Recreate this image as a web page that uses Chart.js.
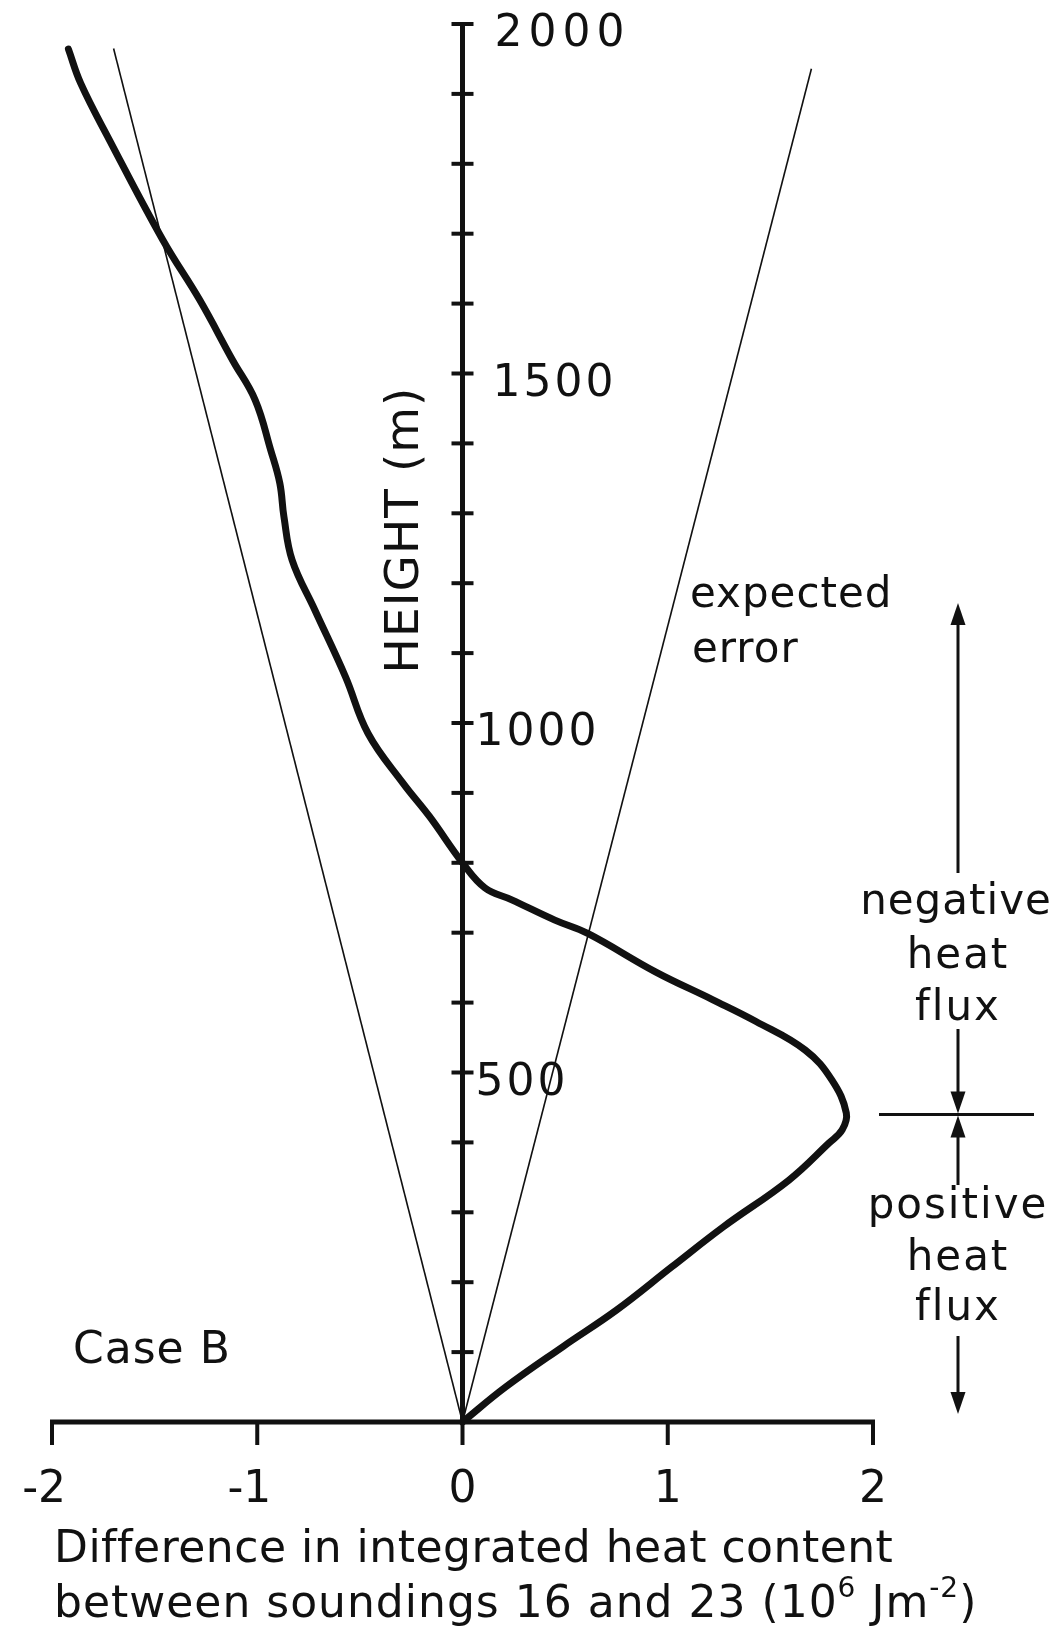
<!DOCTYPE html>
<html>
<head>
<meta charset="utf-8">
<script src="https://cdn.jsdelivr.net/npm/chart.js@4.4.1/dist/chart.umd.min.js"></script>
<style>
  html, body { margin: 0; padding: 0; background: #fff; }
  #wrap { position: relative; width: 1055px; height: 1630px; }
</style>
</head>
<body>
<div id="wrap"><canvas id="heat-profile"></canvas></div>
<script>
// Case B: integrated heat content difference between soundings 16 and 23
const heights = [0, 50, 108, 160, 222, 279, 346, 399, 418, 442, 489, 532, 573, 604,
  644, 699, 718, 747, 764, 800, 866, 914, 985, 1066, 1162, 1233, 1295, 1343, 1391,
  1462, 1519, 1605, 1691, 1834, 1915, 1964];
const heatDiff = [0, 0.21, 0.49, 0.75, 1.02, 1.27, 1.59, 1.785, 1.85, 1.87, 1.80, 1.67,
  1.43, 1.22, 0.94, 0.61, 0.45, 0.24, 0.11, 0, -0.16, -0.29, -0.46, -0.57, -0.72, -0.83,
  -0.87, -0.89, -0.935, -1.01, -1.12, -1.28, -1.46, -1.72, -1.86, -1.92];

// expected error envelope, straight from the origin
const errorLeftX = [0, -1.70];
const errorLeftH = [0, 1965];
const errorRightX = [0, 1.70];
const errorRightH = [0, 1936];

const xTicks = [-2, -1, 0, 1, 2];
const xTickLabels = ['-2', '-1', '0', '1', '2'];
const yTickStep = 100;
const yTickLabels = [500, 1000, 1500, 2000];

const fluxDividerHeight = 440;

const INK = '#111';
const FONT = '"DejaVu Sans", sans-serif';

function toPoints(xs, ys) {
  return xs.map((x, i) => ({ x: x, y: ys[i] }));
}

function arrow(ctx, x, yFrom, yTip) {
  const dir = yTip < yFrom ? -1 : 1;
  ctx.beginPath();
  ctx.moveTo(x, yFrom);
  ctx.lineTo(x, yTip - dir * 16);
  ctx.stroke();
  ctx.beginPath();
  ctx.moveTo(x, yTip);
  ctx.lineTo(x - 7.5, yTip - dir * 22);
  ctx.lineTo(x + 7.5, yTip - dir * 22);
  ctx.closePath();
  ctx.fill();
}

const axesPlugin = {
  id: 'soundingAxes',
  afterDraw(chart) {
    const ctx = chart.ctx;
    const xs = chart.scales.x;
    const ys = chart.scales.y;
    const x0 = xs.getPixelForValue(0);
    const y0 = ys.getPixelForValue(0);

    ctx.save();
    ctx.strokeStyle = INK;
    ctx.fillStyle = INK;
    ctx.lineCap = 'butt';

    // horizontal axis with ticks hanging below
    ctx.lineWidth = 5;
    ctx.beginPath();
    ctx.moveTo(xs.getPixelForValue(-2) - 2, y0);
    ctx.lineTo(xs.getPixelForValue(2) + 2, y0);
    ctx.stroke();
    ctx.lineWidth = 4;
    xTicks.forEach(v => {
      const px = xs.getPixelForValue(v);
      ctx.beginPath();
      ctx.moveTo(px, y0);
      ctx.lineTo(px, y0 + 23);
      ctx.stroke();
    });

    // vertical axis through zero with crossing ticks
    ctx.lineWidth = 5;
    ctx.beginPath();
    ctx.moveTo(x0, y0);
    ctx.lineTo(x0, ys.getPixelForValue(2000) - 1);
    ctx.stroke();
    ctx.lineWidth = 4;
    for (let h = yTickStep; h <= 2000; h += yTickStep) {
      const py = ys.getPixelForValue(h);
      ctx.beginPath();
      ctx.moveTo(x0 - 11, py);
      ctx.lineTo(x0 + 11, py);
      ctx.stroke();
    }

    // tick labels
    ctx.font = '44px ' + FONT;
    ctx.textBaseline = 'alphabetic';
    const yLabelGap = { 500: 13, 1000: 13, 1500: 30, 2000: 32 };
    ctx.textAlign = 'left';
    yTickLabels.forEach(v => {
      ctx.letterSpacing = v === 2000 ? '6px' : '3px';
      ctx.fillText(String(v), x0 + yLabelGap[v], ys.getPixelForValue(v) + 22);
    });
    ctx.letterSpacing = '0px';
    ctx.textAlign = 'right';
    xTicks.forEach((v, i) => {
      const txt = xTickLabels[i];
      const half = ctx.measureText(txt.slice(-1)).width / 2;
      ctx.fillText(txt, xs.getPixelForValue(v) + half, y0 + 80);
    });

    // axis titles
    ctx.textAlign = 'left';
    ctx.letterSpacing = '0.5px';
    ctx.fillText('Difference in integrated heat content', 54, 1562);
    ctx.letterSpacing = '1px';
    let tx = 54;
    const ty = 1617;
    const seg = (t, size, dy) => {
      ctx.font = size + 'px ' + FONT;
      ctx.fillText(t, tx, ty + dy);
      tx += ctx.measureText(t).width;
    };
    seg('between soundings 16 and 23 (10', 44, 0);
    seg('6', 28, -20);
    seg(' Jm', 44, 0);
    seg('-2', 28, -20);
    seg(')', 44, 0);

    ctx.save();
    ctx.font = '47px ' + FONT;
    ctx.translate(406, 530);
    ctx.rotate(-Math.PI / 2);
    ctx.textAlign = 'center';
    ctx.textBaseline = 'middle';
    ctx.fillText('HEIGHT (m)', 0, 0);
    ctx.restore();

    // annotations
    ctx.font = '44px ' + FONT;
    ctx.textAlign = 'left';
    ctx.fillText('Case B', 73, 1363);
    ctx.font = '42px ' + FONT;
    ctx.fillText('expected', 690, 607);
    ctx.fillText('error', 692, 662);

    const ax = 958;
    ctx.textAlign = 'center';
    ctx.letterSpacing = '1px';
    ctx.fillText('negative', ax - 2, 914);
    ctx.letterSpacing = '2px';
    ctx.fillText('heat', ax, 968);
    ctx.fillText('flux', ax, 1020);
    ctx.fillText('positive', ax, 1218);
    ctx.fillText('heat', ax, 1270);
    ctx.fillText('flux', ax, 1320);

    const yDiv = ys.getPixelForValue(fluxDividerHeight);
    ctx.lineWidth = 3;
    ctx.beginPath();
    ctx.moveTo(879, yDiv);
    ctx.lineTo(1034, yDiv);
    ctx.stroke();
    arrow(ctx, ax, 873, 603);
    arrow(ctx, ax, 1029, yDiv - 1);
    arrow(ctx, ax, 1185, yDiv + 1);
    arrow(ctx, ax, 1336, 1414);

    ctx.restore();
  }
};

new Chart(document.getElementById('heat-profile'), {
  type: 'scatter',
  data: {
    datasets: [
      {
        label: 'expected error (left)',
        data: toPoints(errorLeftX, errorLeftH),
        showLine: true,
        borderColor: INK,
        borderWidth: 1.6,
        pointRadius: 0,
      },
      {
        label: 'expected error (right)',
        data: toPoints(errorRightX, errorRightH),
        showLine: true,
        borderColor: INK,
        borderWidth: 1.6,
        pointRadius: 0,
      },
      {
        label: 'heat content difference',
        data: toPoints(heatDiff, heights),
        showLine: true,
        borderColor: INK,
        borderWidth: 7,
        borderCapStyle: 'round',
        borderJoinStyle: 'round',
        tension: 0.4,
        pointRadius: 0,
      },
    ],
  },
  options: {
    responsive: true,
    maintainAspectRatio: false,
    animation: false,
    clip: false,
    layout: { padding: { left: 52, right: 182, top: 24, bottom: 208 } },
    scales: {
      x: { type: 'linear', min: -2, max: 2, display: false },
      y: { type: 'linear', min: 0, max: 2000, display: false },
    },
    plugins: { legend: { display: false }, tooltip: { enabled: false } },
  },
  plugins: [axesPlugin],
});
</script>
</body>
</html>
